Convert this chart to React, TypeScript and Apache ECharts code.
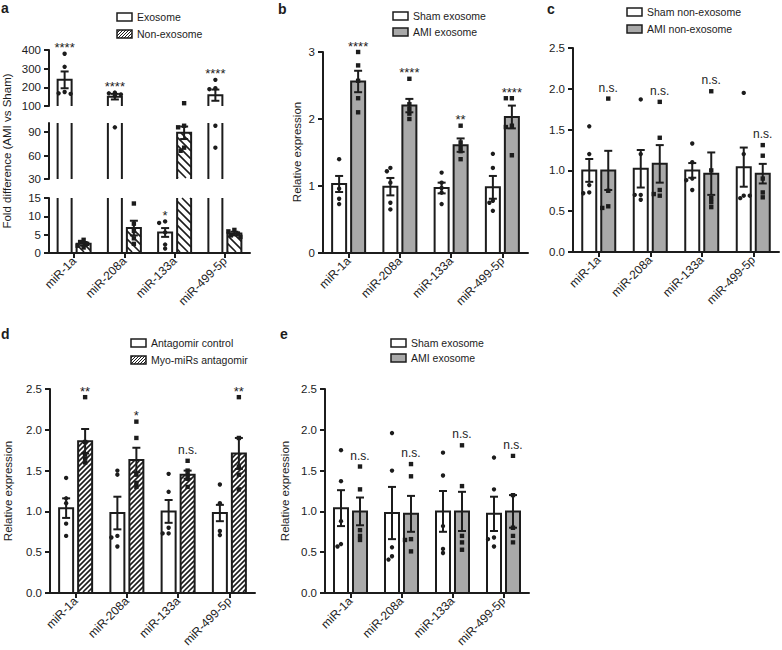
import React, { useEffect, useRef } from "react";
import * as echarts from "echarts";

// ---------- data ----------
const categories = ["miR-1a", "miR-208a", "miR-133a", "miR-499-5p"];

// panel a: fold difference (AMI vs Sham)
const aExoMean = [240, 150, 5.6, 158];
const aExoSem = [45, 15, 1.2, 30];
const aExoPoints = [
  [380, 310, 175, 168, 165],
  [172, 168, 162, 155, 96],
  [8.6, 8.2, 5.6, 2.3, 1.2],
  [240, 195, 190, 98, 70],
];
const aNonMean = [2.5, 6.8, 89, 5.3];
const aNonSem = [0.5, 2.0, 8, 0.5];
const aNonPoints = [
  [3.6, 3.0, 2.5, 2.0, 1.5],
  [13.5, 8, 6, 4, 2.5],
  [115, 98, 96, 70, 66],
  [6.3, 5.9, 5.3, 4.8, 4.4],
];
const aSig = ["****", "****", "*", "****"];
const aMidTicks = [30, 60, 90];

// panel b
const bShamMean = [1.03, 0.99, 0.97, 0.98];
const bShamSem = [0.12, 0.13, 0.08, 0.17];
const bShamPoints = [
  [1.4, 0.96, 0.81, 0.73],
  [1.27, 1.22, 1.05, 0.75, 0.65],
  [1.2, 1.05, 0.97, 0.9, 0.73],
  [1.48, 1.27, 0.78, 0.75, 0.63],
];
const bAmiMean = [2.56, 2.2, 1.61, 2.03];
const bAmiSem = [0.16, 0.1, 0.1, 0.17];
const bAmiPoints = [
  [3.0, 2.8, 2.57, 2.31, 2.1],
  [2.6, 2.22, 2.15, 2.08, 2.0],
  [1.9, 1.65, 1.58, 1.52, 1.4],
  [2.31, 2.31, 1.9, 1.88, 1.46],
];
const bSig = ["****", "****", "**", "****"];

// panel c
const cShamMean = [1.0, 1.02, 1.0, 1.04];
const cShamSem = [0.14, 0.23, 0.09, 0.24];
const cShamPoints = [
  [1.54, 1.2, 0.82, 0.73, 0.72],
  [1.87, 1.2, 0.7, 0.64, 0.7],
  [1.33, 1.1, 0.9, 0.88, 0.76],
  [1.95, 1.2, 0.69, 0.66, 0.69],
];
const cAmiMean = [1.0, 1.08, 0.96, 0.96];
const cAmiSem = [0.24, 0.23, 0.26, 0.12];
const cAmiPoints = [
  [1.88, 0.75, 0.56, 0.54],
  [1.84, 1.4, 0.76, 0.69, 0.71],
  [1.97, 1.0, 0.66, 0.61, 0.55],
  [1.31, 1.18, 0.9, 0.73, 0.67],
];
const cSig = ["n.s.", "n.s.", "n.s.", "n.s."];

// panel d
const dCtrlMean = [1.04, 0.98, 1.0, 0.98];
const dCtrlSem = [0.12, 0.2, 0.14, 0.1];
const dCtrlPoints = [
  [1.41, 1.16, 1.1, 0.85, 0.7],
  [1.45, 1.5, 0.7, 0.68, 0.57],
  [1.46, 1.24, 0.8, 0.73, 0.73],
  [1.33, 1.1, 0.76, 0.71],
];
const dAntMean = [1.86, 1.63, 1.45, 1.71];
const dAntSem = [0.15, 0.15, 0.05, 0.19];
const dAntPoints = [
  [2.4, 1.85, 1.7, 1.65, 1.6],
  [2.1, 1.9, 1.45, 1.35, 1.3],
  [1.62, 1.5, 1.45, 1.4, 1.3],
  [2.4, 1.9, 1.55, 1.45, 1.27],
];
const dSig = ["**", "*", "n.s.", "**"];

// panel e
const eShamMean = [1.04, 0.98, 1.0, 0.97];
const eShamSem = [0.22, 0.32, 0.25, 0.21];
const eShamPoints = [
  [1.75, 1.37, 0.88, 0.6, 0.57],
  [1.96, 1.5, 0.56, 0.45, 0.41],
  [1.72, 1.44, 0.82, 0.54, 0.49],
  [1.66, 1.27, 0.68, 0.66, 0.57],
];
const eAmiMean = [1.0, 0.97, 1.0, 1.0];
const eAmiSem = [0.17, 0.22, 0.24, 0.2];
const eAmiPoints = [
  [1.55, 1.27, 0.77, 0.7, 0.65],
  [1.58, 1.43, 0.66, 0.65, 0.51],
  [1.81, 1.31, 0.7, 0.62, 0.53],
  [1.68, 1.2, 0.8, 0.7, 0.62],
];
const eSig = ["n.s.", "n.s.", "n.s.", "n.s."];

// ---------- styling ----------
const FONT = "'Liberation Sans', Arial, Helvetica, sans-serif";
const INK = "#1c1c1c";
const GRAY = "#a9a9a9";
const BW = 14;
const GAP = 5;

type Hatch = { dir: 1 | -1; step: number; width: number };
type GroupDef = {
  mean: number[];
  sem: number[];
  points: number[][];
  fill: string;
  hatch?: Hatch;
  marker: "circle" | "square";
  sig?: string[];
};

const hatchA: Hatch = { dir: -1, step: 8, width: 1.6 };
const hatchD: Hatch = { dir: 1, step: 5, width: 1.6 };

function hatchLines(x0: number, x1: number, ya: number, yb: number, h: Hatch) {
  const out: any[] = [];
  const s = h.step;
  if (h.dir === 1) {
    const lo = x0 + ya;
    const hi = x1 + yb;
    for (let c = Math.ceil(lo / s) * s; c <= hi; c += s) {
      const xa = Math.max(x0, c - yb);
      const xb = Math.min(x1, c - ya);
      if (xb - xa > 0.3)
        out.push({
          type: "line",
          shape: { x1: xa, y1: c - xa, x2: xb, y2: c - xb },
          style: { stroke: INK, lineWidth: h.width },
        });
    }
  } else {
    const lo = x0 - yb;
    const hi = x1 - ya;
    for (let c = Math.ceil(lo / s) * s; c <= hi; c += s) {
      const xa = Math.max(x0, c + ya);
      const xb = Math.min(x1, c + yb);
      if (xb - xa > 0.3)
        out.push({
          type: "line",
          shape: { x1: xa, y1: xa - c, x2: xb, y2: xb - c },
          style: { stroke: INK, lineWidth: h.width },
        });
    }
  }
  return out;
}

function groupSeries(gridIndex: number, g: GroupDef, side: number, segMin: number, segMax: number) {
  return {
    type: "custom",
    xAxisIndex: gridIndex,
    yAxisIndex: gridIndex,
    silent: true,
    data: categories.map((_, i) => [i, g.mean[i]]),
    encode: { x: 0, y: 1 },
    renderItem: (params: any, api: any) => {
      const i = params.dataIndex;
      const cs = params.coordSys;
      const top = cs.y;
      const bottom = cs.y + cs.height;
      const cx = api.coord([i, 0])[0] + side * (BW / 2 + GAP / 2);
      const x0 = cx - BW / 2;
      const x1 = cx + BW / 2;
      const children: any[] = [];
      const lw = 2;
      const yv = api.coord([i, g.mean[i]])[1];
      if (yv < bottom) {
        const yt = Math.max(yv, top);
        children.push({
          type: "rect",
          shape: { x: x0, y: yt, width: BW, height: bottom - 1 - yt },
          style: { fill: g.fill },
        });
        if (g.hatch) children.push(...hatchLines(x0, x1, yt, bottom - 1, g.hatch));
        if (yv >= top) {
          children.push({
            type: "polyline",
            shape: { points: [[x0, bottom], [x0, yv], [x1, yv], [x1, bottom]] },
            style: { stroke: INK, lineWidth: lw, fill: "none", lineJoin: "miter" },
          });
        } else {
          children.push({ type: "line", shape: { x1: x0, y1: top, x2: x0, y2: bottom }, style: { stroke: INK, lineWidth: lw } });
          children.push({ type: "line", shape: { x1: x1, y1: top, x2: x1, y2: bottom }, style: { stroke: INK, lineWidth: lw } });
        }
      }
      // error bar (mean ± SEM)
      const yh = api.coord([i, g.mean[i] + g.sem[i]])[1];
      const yl = api.coord([i, g.mean[i] - g.sem[i]])[1];
      const ea = Math.max(yh, top);
      const eb = Math.min(yl, bottom);
      if (ea < eb)
        children.push({ type: "line", shape: { x1: cx, y1: ea, x2: cx, y2: eb }, style: { stroke: INK, lineWidth: 2 } });
      const capW = 4;
      if (yh >= top && yh <= bottom)
        children.push({ type: "line", shape: { x1: cx - capW, y1: yh, x2: cx + capW, y2: yh }, style: { stroke: INK, lineWidth: 2 } });
      if (yl >= top && yl <= bottom)
        children.push({ type: "line", shape: { x1: cx - capW, y1: yl, x2: cx + capW, y2: yl }, style: { stroke: INK, lineWidth: 2 } });
      // individual points (simple beeswarm)
      const placed: number[][] = [];
      for (const p of g.points[i]) {
        if (p < segMin || p > segMax) continue;
        const py = api.coord([i, p])[1];
        let px = cx;
        for (const off of [0, -3.5, 3.5, -6, 6]) {
          const tx = cx + off;
          if (!placed.some((q) => Math.hypot(q[0] - tx, q[1] - py) < 4)) {
            px = tx;
            break;
          }
        }
        placed.push([px, py]);
        if (g.marker === "circle")
          children.push({ type: "circle", shape: { cx: px, cy: py, r: 2.2 }, style: { fill: INK } });
        else
          children.push({ type: "rect", shape: { x: px - 2.2, y: py - 2.2, width: 4.4, height: 4.4 }, style: { fill: INK } });
      }
      // significance label
      if (g.sig && g.sig[i]) {
        const m = Math.max(...g.points[i]);
        if (m >= segMin && m <= segMax) {
          const y = api.coord([i, m])[1];
          const star = g.sig[i].startsWith("*");
          children.push({
            type: "text",
            x: cx,
            y: star ? y - 6 : y - 11,
            style: {
              text: g.sig[i],
              fill: INK,
              font: `${star ? 13 : 12}px ${FONT}`,
              align: "center",
              verticalAlign: "middle",
              textAlign: "center",
              textVerticalAlign: "middle",
            },
          });
        }
      }
      return { type: "group", children };
    },
  };
}

const grids = [
  { left: 49, top: 50, width: 201, height: 56 }, // a top
  { left: 49, top: 123, width: 201, height: 56 }, // a mid
  { left: 49, top: 198, width: 201, height: 55 }, // a bottom
  { left: 323, top: 52, width: 205, height: 201 }, // b
  { left: 573, top: 48, width: 206, height: 204 }, // c
  { left: 50, top: 389, width: 205, height: 204 }, // d
  { left: 325, top: 389, width: 204, height: 204 }, // e
];

const lineStyle = { color: INK, width: 2 };

function xAxisOf(gridIndex: number, show: boolean) {
  return {
    type: "category",
    gridIndex,
    data: categories,
    show,
    axisLine: { show: true, lineStyle },
    axisTick: { show: true, alignWithLabel: true, length: 5, lineStyle },
    axisLabel: { rotate: 45, margin: 6, interval: 0, fontSize: 12, fontFamily: FONT, color: INK },
    splitLine: { show: false },
  };
}

function yAxisOf(gridIndex: number, min: number, max: number, interval: number | null, fmt?: (v: number) => string, custom?: number[]) {
  const ax: any = {
    type: "value",
    gridIndex,
    min,
    max,
    axisLine: { show: true, lineStyle },
    axisTick: { show: true, length: 5, lineStyle },
    axisLabel: { margin: 8, fontSize: 11.5, fontFamily: FONT, color: INK },
    splitLine: { show: false },
  };
  if (interval !== null) ax.interval = interval;
  if (fmt) ax.axisLabel.formatter = fmt;
  if (custom) {
    ax.axisLabel.customValues = custom;
    ax.axisTick.customValues = custom;
  }
  return ax;
}

function textEl(x: number, y: number, text: string, font: string, rotation = 0, align = "left") {
  return {
    type: "text",
    x,
    y,
    rotation,
    style: {
      text,
      fill: INK,
      font,
      align,
      verticalAlign: "middle",
      textAlign: align,
      textVerticalAlign: "middle",
    },
  };
}

function legendItem(x: number, y: number, label: string, fill: string, hatch?: Hatch) {
  const w = 15;
  const h = 8;
  const els: any[] = [
    { type: "rect", shape: { x, y, width: w, height: h }, style: { fill, stroke: "none" } },
  ];
  if (hatch) {
    for (const l of hatchLines(x, x + w, y, y + h, { dir: 1, step: 3, width: 1 })) els.push(l);
  }
  els.push({ type: "rect", shape: { x, y, width: w, height: h }, style: { fill: "none", stroke: INK, lineWidth: 1.5 } });
  els.push(textEl(x + 20, y + h / 2, label, `10.5px ${FONT}`));
  return els;
}

const letterFont = `bold 14px ${FONT}`;
const titleFont = `11.5px ${FONT}`;

export default function App() {
  const ref = useRef<HTMLDivElement>(null);
  useEffect(() => {
    if (!ref.current) return;
    const chart = echarts.init(ref.current, null, { renderer: "svg" });
    const fmt1 = (v: number) => v.toFixed(1);

    const aExo: GroupDef = { mean: aExoMean, sem: aExoSem, points: aExoPoints, fill: "#fff", marker: "circle", sig: aSig };
    const aNon: GroupDef = { mean: aNonMean, sem: aNonSem, points: aNonPoints, fill: "#fff", hatch: hatchA, marker: "square" };
    const bSham: GroupDef = { mean: bShamMean, sem: bShamSem, points: bShamPoints, fill: "#fff", marker: "circle" };
    const bAmi: GroupDef = { mean: bAmiMean, sem: bAmiSem, points: bAmiPoints, fill: GRAY, marker: "square", sig: bSig };
    const cSham: GroupDef = { mean: cShamMean, sem: cShamSem, points: cShamPoints, fill: "#fff", marker: "circle" };
    const cAmi: GroupDef = { mean: cAmiMean, sem: cAmiSem, points: cAmiPoints, fill: GRAY, marker: "square", sig: cSig };
    const dCtrl: GroupDef = { mean: dCtrlMean, sem: dCtrlSem, points: dCtrlPoints, fill: "#fff", marker: "circle" };
    const dAnt: GroupDef = { mean: dAntMean, sem: dAntSem, points: dAntPoints, fill: "#fff", hatch: hatchD, marker: "square", sig: dSig };
    const eSham: GroupDef = { mean: eShamMean, sem: eShamSem, points: eShamPoints, fill: "#fff", marker: "circle" };
    const eAmi: GroupDef = { mean: eAmiMean, sem: eAmiSem, points: eAmiPoints, fill: GRAY, marker: "square", sig: eSig };

    const segs = [
      [100, 400],
      [30, 101.5],
      [0, 15],
    ];

    const series: any[] = [];
    segs.forEach((s, k) => {
      series.push(groupSeries(k, aExo, -1, s[0], k === 0 ? Infinity : s[1]));
      series.push(groupSeries(k, aNon, 1, s[0], k === 0 ? Infinity : s[1]));
    });
    series.push(groupSeries(3, bSham, -1, 0, Infinity));
    series.push(groupSeries(3, bAmi, 1, 0, Infinity));
    series.push(groupSeries(4, cSham, -1, 0, Infinity));
    series.push(groupSeries(4, cAmi, 1, 0, Infinity));
    series.push(groupSeries(5, dCtrl, -1, 0, Infinity));
    series.push(groupSeries(5, dAnt, 1, 0, Infinity));
    series.push(groupSeries(6, eSham, -1, 0, Infinity));
    series.push(groupSeries(6, eAmi, 1, 0, Infinity));

    const graphicEls: any[] = [
      textEl(1, 8, "a", letterFont),
      textEl(278, 9, "b", letterFont),
      textEl(547, 9, "c", letterFont),
      textEl(1, 334, "d", letterFont),
      textEl(280, 334, "e", letterFont),
      ...legendItem(117, 13, "Exosome", "#fff"),
      ...legendItem(117, 30, "Non-exosome", "#fff", hatchA),
      ...legendItem(393, 12, "Sham exosome", "#fff"),
      ...legendItem(393, 28, "AMI exosome", GRAY),
      ...legendItem(627, 8, "Sham non-exosome", "#fff"),
      ...legendItem(627, 25, "AMI non-exosome", GRAY),
      ...legendItem(131, 339, "Antagomir control", "#fff"),
      ...legendItem(131, 356, "Myo-miRs antagomir", "#fff", hatchD),
      ...legendItem(391, 339, "Sham exosome", "#fff"),
      ...legendItem(391, 354, "AMI exosome", GRAY),
      textEl(7, 151, "Fold difference (AMI vs Sham)", titleFont, Math.PI / 2, "center"),
      textEl(297, 152, "Relative expression", titleFont, Math.PI / 2, "center"),
      textEl(8, 491, "Relative expression", titleFont, Math.PI / 2, "center"),
      textEl(285, 491, "Relative expression", titleFont, Math.PI / 2, "center"),
    ];

    chart.setOption({
      animation: false,
      backgroundColor: "#fff",
      grid: grids.map((g) => ({ ...g, containLabel: false })),
      xAxis: [
        xAxisOf(0, false),
        xAxisOf(1, false),
        xAxisOf(2, true),
        xAxisOf(3, true),
        xAxisOf(4, true),
        xAxisOf(5, true),
        xAxisOf(6, true),
      ],
      yAxis: [
        yAxisOf(0, 100, 400, 100),
        yAxisOf(1, 30, 101.5, null, undefined, aMidTicks),
        yAxisOf(2, 0, 15, 5),
        yAxisOf(3, 0, 3, 1),
        yAxisOf(4, 0, 2.5, 0.5, fmt1),
        yAxisOf(5, 0, 2.5, 0.5, fmt1),
        yAxisOf(6, 0, 2.5, 0.5, fmt1),
      ],
      series,
      graphic: { elements: graphicEls },
    });
    return () => chart.dispose();
  }, []);
  return (
    <div
      ref={ref}
      style={{ position: "fixed", left: 0, top: 0, width: 782, height: 650, background: "#fff" }}
    />
  );
}
